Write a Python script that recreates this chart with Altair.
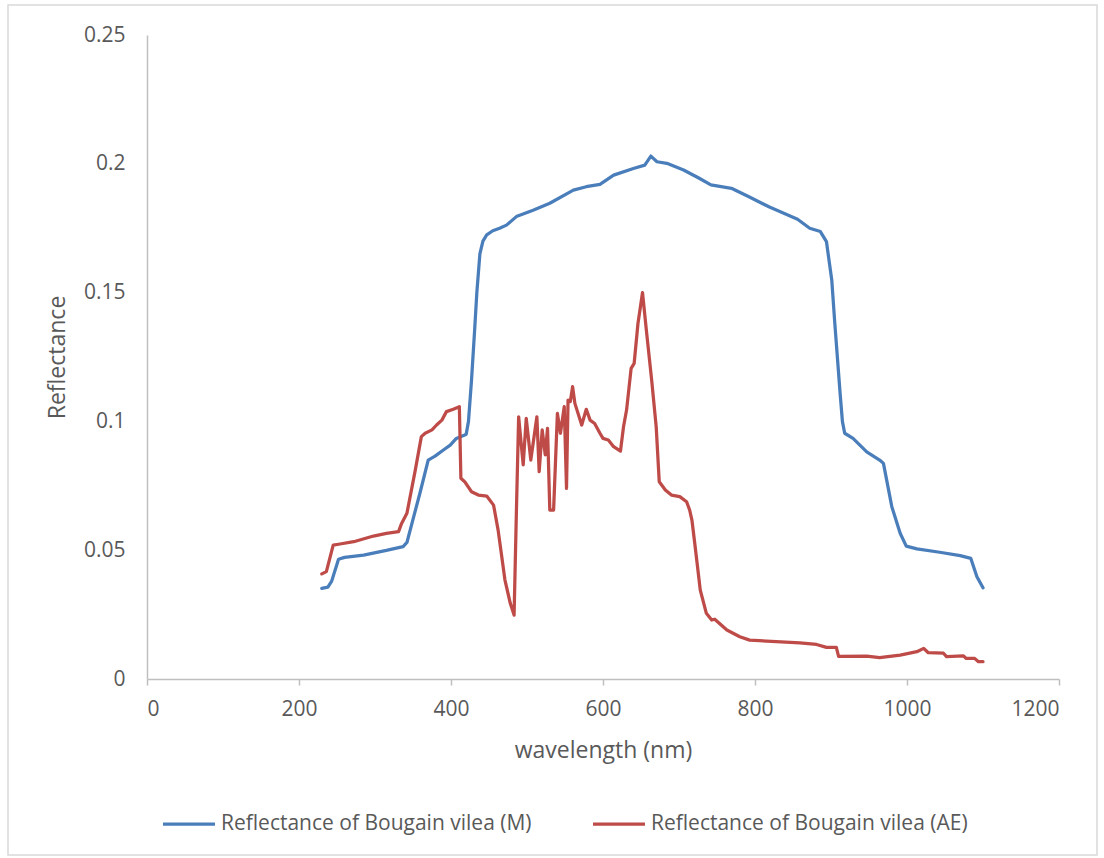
import altair as alt
import pandas as pd

# Reflectance of Bougain vilea (M)
wl_m = [230, 238, 243, 252, 260, 285, 315, 337, 342, 350, 359, 370, 379, 390, 399, 407, 418,
        420, 423, 427, 431, 434, 438, 442, 447, 455, 464, 473, 486, 508, 530, 561, 578, 596,
        614, 640, 655, 663, 671, 684, 706, 726, 742, 769, 792, 819, 856, 872, 886, 894, 901,
        905, 912, 915, 918, 929, 947, 964, 969, 980, 991, 999, 1013, 1043, 1070, 1084, 1092, 1100]
refl_m = [0.0352, 0.0357, 0.038, 0.0465, 0.0472, 0.0481, 0.0499, 0.0514, 0.053, 0.062, 0.072,
          0.085, 0.0865, 0.0889, 0.0908, 0.0934, 0.0947,
          0.095, 0.100, 0.116, 0.135, 0.150, 0.165, 0.170, 0.1724, 0.174, 0.175, 0.1762, 0.1795,
          0.182, 0.1847, 0.1898, 0.1911, 0.192, 0.1956, 0.1982, 0.1995, 0.203, 0.2008, 0.2002,
          0.1976, 0.1945, 0.1918, 0.1905, 0.1872, 0.1832, 0.1785, 0.175, 0.1737, 0.1698, 0.1549,
          0.1381, 0.1109, 0.100, 0.0954, 0.0934, 0.0882, 0.085, 0.0837, 0.0669, 0.0566, 0.0516,
          0.0505, 0.0492, 0.0479, 0.0468, 0.0397, 0.0354]

# Reflectance of Bougain vilea (AE)
wl_ae = [230, 236, 245, 254, 272, 298, 315, 331, 335, 342, 353, 361, 366, 375, 381, 388, 394,
         403, 411, 413, 418, 427, 436, 447, 456, 462, 471, 478, 483, 486, 489, 495, 499, 505,
         513, 516, 520, 524, 527, 530, 535, 540, 544, 549, 552, 554, 557, 560, 563, 572, 578,
         583, 589, 596, 600, 607, 614, 623, 627, 631, 637, 641, 646, 652, 657, 664, 670, 674,
         682, 690, 701, 710, 714, 717, 721, 728, 736, 743, 747, 763, 780, 793, 859, 881, 894,
         907, 910, 947, 964, 991, 1013, 1022, 1028, 1048, 1052, 1074, 1078, 1089, 1094, 1100]
refl_ae = [0.0408, 0.0417, 0.052, 0.0524, 0.0533, 0.0555, 0.0565, 0.0572, 0.0604, 0.0643,
           0.0811, 0.0941, 0.0954, 0.0967, 0.0986, 0.1005, 0.1038, 0.1047, 0.1057, 0.0779,
           0.0766, 0.0727, 0.0714, 0.071, 0.0675, 0.0578, 0.0384, 0.0294, 0.0248, 0.0643,
           0.1018, 0.0831, 0.1012, 0.085, 0.1018, 0.0805, 0.0967, 0.087, 0.0973, 0.0656,
           0.0656, 0.1031, 0.0954, 0.1057, 0.074, 0.1083, 0.1077, 0.1135, 0.107, 0.0986,
           0.1047, 0.1005, 0.0992, 0.0954, 0.0934, 0.0928, 0.0902, 0.0885, 0.0979, 0.1044,
           0.1206, 0.1225, 0.138, 0.150, 0.1355, 0.1161, 0.0979, 0.0766, 0.0734, 0.0714,
           0.0708, 0.0688, 0.0656, 0.0617, 0.052, 0.0345, 0.0255, 0.0229, 0.0232, 0.019,
           0.0164, 0.0151, 0.014, 0.0134, 0.0123, 0.0123, 0.0088, 0.0089, 0.0083, 0.0093,
           0.0106, 0.0119, 0.0102, 0.01, 0.0087, 0.009, 0.008, 0.008, 0.0067, 0.0067]

series_names = ["Reflectance of Bougain vilea (M)", "Reflectance of Bougain vilea (AE)"]
series_colors = ["#4A7EBB", "#BE4B48"]
x_ticks = [0, 200, 400, 600, 800, 1000, 1200]
y_ticks = [0, 0.05, 0.1, 0.15, 0.2, 0.25]

df = pd.concat([
    pd.DataFrame({"wl": wl_m, "r": refl_m, "series": series_names[0], "order": range(len(wl_m))}),
    pd.DataFrame({"wl": wl_ae, "r": refl_ae, "series": series_names[1], "order": range(len(wl_ae))}),
])

FONT = "Open Sans"
GREY = "#595959"

lines = alt.Chart(df).mark_line(strokeWidth=3.25, strokeJoin="round", strokeCap="round").encode(
    x=alt.X("wl:Q", scale=alt.Scale(domain=[0, 1200], nice=False),
            axis=alt.Axis(values=x_ticks, format="d", title="wavelength (nm)", grid=False,
                          tickSize=6, labelPadding=13, titlePadding=20)),
    y=alt.Y("r:Q", scale=alt.Scale(domain=[0, 0.25], nice=False),
            axis=alt.Axis(values=y_ticks, format="~g", title="Reflectance", grid=False,
                          ticks=False, labelPadding=22, titlePadding=14)),
    color=alt.Color("series:N", scale=alt.Scale(domain=series_names, range=series_colors),
                    legend=alt.Legend(title=None, orient="none", direction="horizontal",
                                      legendX=14, legendY=761, symbolType="stroke",
                                      symbolSize=2700, symbolStrokeWidth=3.25,
                                      labelFontSize=21, labelFont=FONT, labelColor=GREY,
                                      labelLimit=0, labelOffset=4, columnPadding=54)),
    order="order:Q",
)

frame = alt.Chart(alt.Data(values=[{"a": 1}])).mark_rect(
    fill=None, stroke="#d9d9d9", strokeWidth=1.5
).encode(x=alt.value(-139), x2=alt.value(950), y=alt.value(-30), y2=alt.value(820))

chart = alt.layer(frame, lines).properties(
    width=912, height=644,
    padding={"left": 147, "top": 35, "right": 45, "bottom": 179},
    autosize=alt.AutoSizeParams(type="none"),
    background="white",
).configure_view(stroke=None).configure_axis(
    labelFont=FONT, titleFont=FONT, labelFontSize=21, titleFontSize=23,
    labelColor=GREY, titleColor=GREY, titleFontWeight="normal",
    domainColor="#bfbfbf", tickColor="#bfbfbf", domainWidth=1.5, tickWidth=1.5,
)

chart.save("out.html", embed_options={"renderer": "svg", "actions": False})
